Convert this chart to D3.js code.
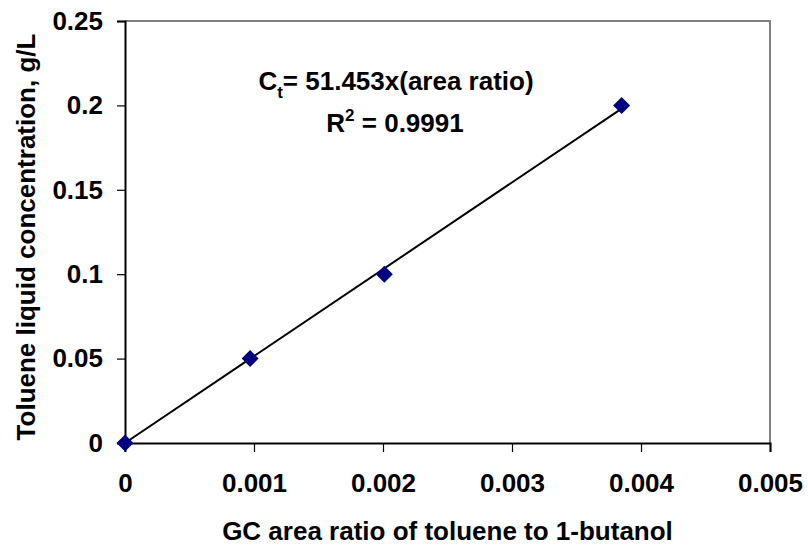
<!DOCTYPE html>
<html>
<head>
<meta charset="utf-8">
<script src="https://cdn.jsdelivr.net/npm/d3@7"></script>
<style>
  html, body { margin: 0; padding: 0; background: #fff; }
  svg { display: block; font-family: Arial, "Liberation Sans", sans-serif; }
</style>
</head>
<body>
<svg id="chart" width="808" height="546"></svg>
<script>
// Calibration data: GC area ratio vs toluene concentration
const areaRatio = [0, 0.00097, 0.00201, 0.00385];
const concentration = [0, 0.05, 0.1, 0.2];
const slope = 51.453;
const xTicks = [0, 0.001, 0.002, 0.003, 0.004, 0.005];
const yTicks = [0, 0.05, 0.1, 0.15, 0.2, 0.25];

const FONT = "Arial, 'Liberation Sans', sans-serif";
const svg = d3.select("#chart");
const m = { left: 125, right: 770, top: 21, bottom: 443 };

const x = d3.scaleLinear().domain([0, 0.005]).range([m.left, m.right]);
const y = d3.scaleLinear().domain([0, 0.25]).range([m.bottom, m.top]);

// Plot frame: grey top/right edges
svg.append("path")
  .attr("d", `M${m.left},${m.top}H${m.right}V${m.bottom}`)
  .attr("fill", "none").attr("stroke", "#808080").attr("stroke-width", 2);

// Axes
const xAxis = svg.append("g").attr("transform", `translate(0,${m.bottom})`)
  .call(d3.axisBottom(x).tickValues(xTicks).tickSize(9).tickPadding(22)
    .tickFormat(d => d === 0 ? "0" : d3.format(".3f")(d)));
const yAxis = svg.append("g").attr("transform", `translate(${m.left},0)`)
  .call(d3.axisLeft(y).tickValues(yTicks).tickSize(8).tickPadding(14)
    .tickFormat(d => d === 0 ? "0" : String(+d.toFixed(2))));

[xAxis, yAxis].forEach(g => {
  g.select(".domain").attr("stroke", "#000").attr("stroke-width", 2);
  g.selectAll(".tick line").attr("stroke", "#000").attr("stroke-width", 1.2);
  g.selectAll(".tick text").attr("fill", "#000")
    .style("font-size", "26px").style("font-weight", "bold")
    .style("font-family", FONT);
});

// Linear fit line through the origin
const xEnd = d3.max(areaRatio);
svg.append("line")
  .attr("x1", x(0)).attr("y1", y(0))
  .attr("x2", x(xEnd)).attr("y2", y(slope * xEnd))
  .attr("stroke", "#000").attr("stroke-width", 2);

// Data markers (diamonds)
svg.append("g").selectAll("path")
  .data(areaRatio.map((v, i) => [v, concentration[i]]))
  .join("path")
  .attr("transform", d => `translate(${x(d[0])},${y(d[1])})`)
  .attr("d", "M0,-8.5L8.5,0L0,8.5L-8.5,0Z")
  .attr("fill", "#000080");

// Equation annotation
const eq = svg.append("text").attr("x", 396).attr("y", 90)
  .attr("text-anchor", "middle")
  .style("font-size", "26px").style("font-weight", "bold");
eq.append("tspan").text("C");
eq.append("tspan").attr("dy", 8).style("font-size", "17px").text("t");
eq.append("tspan").attr("dy", -8).text("= 51.453x(area ratio)");

const r2 = svg.append("text").attr("x", 395).attr("y", 132)
  .attr("text-anchor", "middle")
  .style("font-size", "26px").style("font-weight", "bold");
r2.append("tspan").text("R");
r2.append("tspan").attr("dy", -11).style("font-size", "17px").text("2");
r2.append("tspan").attr("dy", 11).text(" = 0.9991");

// Axis titles
svg.append("text").attr("x", (m.left + m.right) / 2).attr("y", 540)
  .attr("text-anchor", "middle")
  .style("font-size", "26px").style("font-weight", "bold")
  .text("GC area ratio of toluene to 1-butanol");

svg.append("text")
  .attr("transform", "translate(35,237) rotate(-90)")
  .attr("text-anchor", "middle")
  .style("font-size", "26px").style("font-weight", "bold")
  .text("Toluene liquid concentration, g/L");
</script>
</body>
</html>
